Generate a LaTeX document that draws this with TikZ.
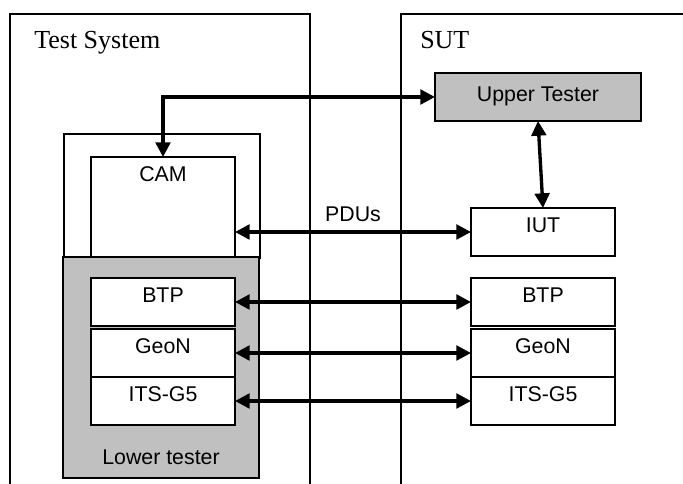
\documentclass[tikz,border=0pt]{standalone}
\usepackage{fontspec}
\setmainfont{Liberation Serif}
\setsansfont{Liberation Sans}
\usetikzlibrary{arrows.meta, positioning}
\definecolor{testgray}{RGB}{192,192,192}

\begin{document}
\begin{tikzpicture}[x=0.75pt, y=-0.75pt,
    frame/.style={draw, line width=1.4pt},
    title/.style={anchor=base west, inner sep=0pt, font=\fontsize{19.5}{22}\selectfont},
    layer/.style={frame, fill=white, inner sep=0pt, outer sep=0pt, minimum width=108pt,
      font=\sffamily\fontsize{16}{19}\selectfont, text height=18.75pt, text depth=17.25pt},
    link/.style={line width=2.5pt, {Triangle[length=11pt, width=11pt]}-{Triangle[length=11pt, width=11pt]}}]

    \useasboundingbox (0,0) rectangle (683,484);

    \draw[frame] (10,484) -- (10,14) -- (310,14) -- (310,484);
    \draw[frame] (401,484) -- (401,14) -- (683,14);
    \node (ts) [title] at (34,49) {Test System};
    \node (sut) [title] at (420,49) {SUT};

    \node (tester) [frame, anchor=north west, inner sep=0pt, minimum width=147pt, minimum height=93pt] at (63,133) {};
    \node (lower) [layer, fill=testgray, anchor=north west, minimum width=147pt, text height=156pt, text depth=9.75pt] at (63,257) {Lower tester};
    \node (cam) [layer, anchor=north west, text depth=56.25pt] at (91,157) {CAM};
    \node (lbtp) [layer, anchor=north west] at (91,278) {BTP};
    \node (lgeon) [layer, below=2.25pt of lbtp] {GeoN};
    \node (lits) [layer, below=0pt of lgeon] {ITS-G5};

    \node (ut) [layer, fill=testgray, anchor=north west, minimum width=154.5pt, text height=21.75pt, text depth=14.25pt] at (435,73) {Upper Tester};
    \node (iut) [layer, anchor=north west] at (471,208) {IUT};
    \node (rbtp) [layer, anchor=north west] at (471,278) {BTP};
    \node (rgeon) [layer, below=2.25pt of rbtp] {GeoN};
    \node (rits) [layer, below=0pt of rgeon] {ITS-G5};

    \draw[link] (ut.west) -| (cam.north);
    \draw[link] (ut.south) -- (iut.north);
    \draw[link] (cam.east |- iut.west) -- node (pdus) [above=3.5pt, font=\sffamily\fontsize{16}{19}\selectfont] {PDUs} (iut.west);
    \foreach \n in {btp, geon, its}
    \draw[link] (l\n.east) -- (r\n.west);

\end{tikzpicture}
\end{document}
